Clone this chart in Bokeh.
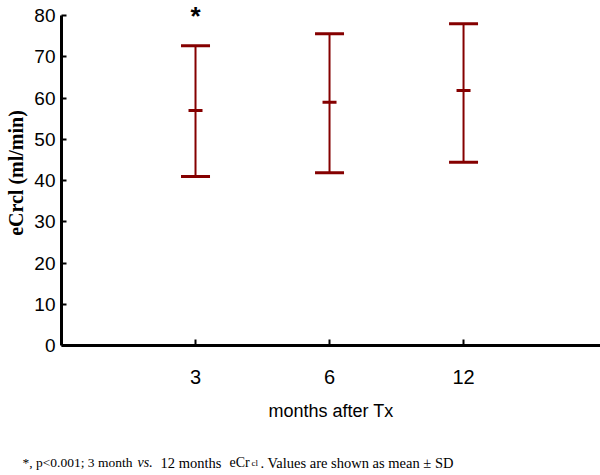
from bokeh.plotting import figure
from bokeh.models import Label, FixedTicker, Range1d
from bokeh.core.properties import value
from bokeh.embed import file_html
from bokeh.resources import INLINE

# ---- data ----
categories = ["3", "6", "12"]          # months after Tx
means = [57.0, 59.0, 61.8]
upper = [72.7, 75.6, 78.0]             # mean + SD
lower = [41.0, 41.9, 44.4]             # mean - SD
y_ticks = [0, 10, 20, 30, 40, 50, 60, 70, 80]
star_category = "3"

xpos = [i + 1 for i in range(len(categories))]
RED = "#850000"
SANS = "Liberation Sans, Arial, sans-serif"
SERIF = "Liberation Serif, Times New Roman, serif"

p = figure(width=600, height=440, title=None,
           x_range=Range1d(0, 4.022), y_range=Range1d(0, 83.64),
           output_backend="svg", toolbar_location=None,
           min_border_left=61, min_border_right=0,
           min_border_top=0, min_border_bottom=95)
p.outline_line_color = None
p.xgrid.grid_line_color = None
p.ygrid.grid_line_color = None
p.background_fill_color = "white"
p.border_fill_color = "white"

# error bars
p.segment(x0=xpos, y0=lower, x1=xpos, y1=upper, line_color=RED, line_width=2)
p.dash(x=xpos, y=upper, size=29, line_color=RED, line_width=3)
p.dash(x=xpos, y=lower, size=29, line_color=RED, line_width=3)
p.dash(x=xpos, y=means, size=14, line_color=RED, line_width=3)

# axes
xa = p.xaxis[0]
xa.ticker = FixedTicker(ticks=xpos)
xa.major_label_overrides = {x: c for x, c in zip(xpos, categories)}
xa.axis_line_width = 3
xa.axis_line_color = "black"
xa.major_tick_in = 6
xa.major_tick_out = 0
xa.major_tick_line_width = 2
xa.minor_tick_line_color = None
xa.major_label_text_font = SANS
xa.major_label_text_font_size = "20px"
xa.major_label_text_color = "black"
xa.major_label_standoff = 24
xa.axis_label = "months after Tx"
xa.axis_label_text_font = SANS
xa.axis_label_text_font_size = "18px"
xa.axis_label_text_font_style = "normal"
xa.axis_label_text_color = "black"
xa.axis_label_standoff = 14

ya = p.yaxis[0]
ya.ticker = FixedTicker(ticks=y_ticks)
ya.bounds = (y_ticks[0], y_ticks[-1])
ya.axis_line_width = 3
ya.axis_line_color = "black"
ya.major_tick_in = 5
ya.major_tick_out = 0
ya.major_tick_line_width = 2
ya.minor_tick_line_color = None
ya.major_label_text_font = SANS
ya.major_label_text_font_size = "19px"
ya.major_label_text_color = "black"
ya.major_label_standoff = 6
ya.axis_label = "eCrcl (ml/min)"
ya.axis_label_text_font = SERIF
ya.axis_label_text_font_size = "20px"
ya.axis_label_text_font_style = "bold"
ya.axis_label_text_color = "black"
ya.axis_label_standoff = 4

# significance star above the 3-month bar
p.add_layout(Label(x=xpos[categories.index(star_category)], y=83.5, text="*",
                   text_align="center", text_baseline="top",
                   text_font="Liberation Sans", text_font_style="bold",
                   text_font_size="26px", text_color="black"))

# footnote strip (pixel-sized ranges so pieces can be placed side by side)
f = figure(width=600, height=35, title=None,
           x_range=Range1d(0, 600), y_range=Range1d(0, 35),
           output_backend="svg", toolbar_location=None,
           x_axis_type=None, y_axis_type=None,
           min_border_left=0, min_border_right=0,
           min_border_top=0, min_border_bottom=0)
f.outline_line_color = None
f.xgrid.grid_line_color = None
f.ygrid.grid_line_color = None
f.background_fill_color = "white"
f.border_fill_color = "white"

pieces = [
    ("*, p<0.001; 3 month", 22, "normal", "13.5px"),
    ("vs.", 137, "italic", "14px"),
    ("12 months", 160, "normal", "14.5px"),
    ("eCr", 229, "normal", "14px"),
    ("cl", 251, "normal", "9px"),
    (". Values are shown as mean \u00b1 SD", 260, "normal", "14.5px"),
]
for txt, px, style, size in pieces:
    f.text(x=[px], y=[13], text=[txt], text_align="left",
           text_baseline="alphabetic", text_font=value(SERIF),
           text_font_style=style, text_font_size=size, text_color="black")

open("out.html", "w").write(file_html([p, f], INLINE))
